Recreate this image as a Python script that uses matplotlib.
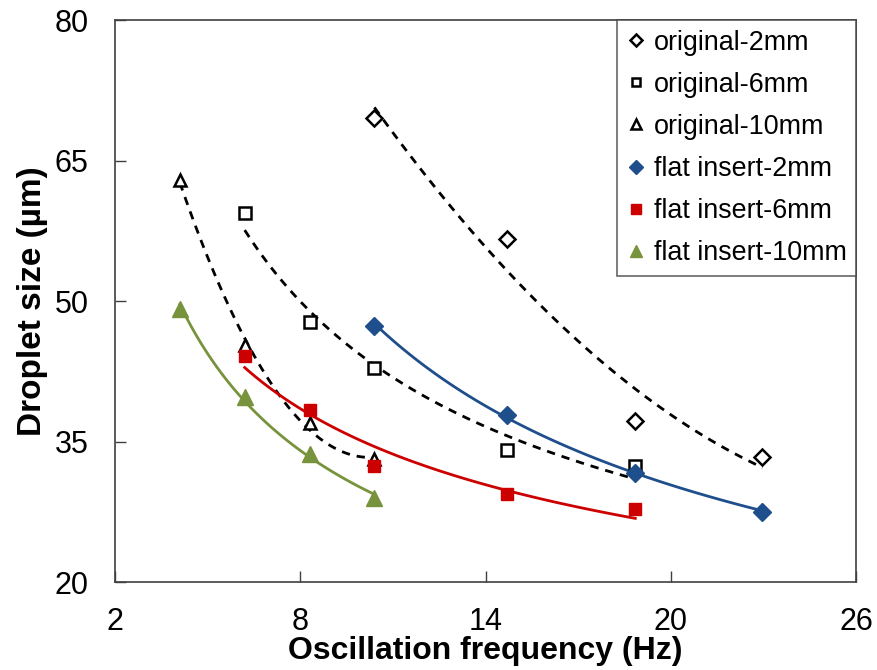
import numpy as np
import matplotlib
matplotlib.use("Agg")
import matplotlib.pyplot as plt

plt.rcParams['font.family'] = ['Liberation Sans', 'DejaVu Sans']

# data
freq_2mm = [10.4, 14.7, 18.85, 22.97]
freq_6mm = [6.2, 8.3, 10.4, 14.7, 18.85]
freq_10mm = [4.1, 6.2, 8.3, 10.4]

orig_2mm = [69.6, 56.6, 37.2, 33.4]
orig_6mm = [59.4, 47.8, 42.9, 34.1, 32.4]
orig_10mm = [62.9, 45.3, 37.0, 33.1]

flat_2mm = [47.4, 37.8, 31.7, 27.5]
flat_6mm = [44.1, 38.4, 32.4, 29.4, 27.8]
flat_10mm = [49.2, 39.8, 33.7, 29.0]

blue = '#1F4E8C'
red = '#CC0000'
green = '#77933C'

fig = plt.figure(figsize=(8.78, 6.70), dpi=100)
ax = fig.add_axes([0.131, 0.131, 0.844, 0.839])


def poly_trend(x, y):
    c = np.polyfit(x, y, 2)
    xs = np.linspace(min(x), max(x), 100)
    return xs, np.polyval(c, xs)


def power_trend(x, y):
    b, a = np.polyfit(np.log(x), np.log(y), 1)
    xs = np.linspace(min(x), max(x), 100)
    return xs, np.exp(a) * xs ** b


# trend lines (dashed for the original nozzle, solid for the flat insert)
for x, y, fit in [(freq_2mm, orig_2mm, poly_trend), (freq_6mm, orig_6mm, power_trend),
                  (freq_10mm, orig_10mm, poly_trend)]:
    xs, ys = fit(x, y)
    ax.plot(xs, ys, '--', color='black', lw=2, dashes=(3, 2.5), zorder=2)

for x, y, col in [(freq_2mm, flat_2mm, blue), (freq_6mm, flat_6mm, red), (freq_10mm, flat_10mm, green)]:
    xs, ys = power_trend(x, y)
    ax.plot(xs, ys, '-', color=col, lw=2, zorder=2)

# markers
ax.plot(freq_2mm, orig_2mm, 'D', ls='none', ms=8, mfc='white', mec='black', mew=1.8, label='original-2mm', zorder=3)
ax.plot(freq_6mm, orig_6mm, 's', ls='none', ms=8, mfc='white', mec='black', mew=1.8, label='original-6mm', zorder=3)
ax.plot(freq_10mm, orig_10mm, '^', ls='none', ms=9, mfc='white', mec='black', mew=1.8, label='original-10mm', zorder=3)
ax.plot(freq_2mm, flat_2mm, 'D', ls='none', ms=9, color=blue, label='flat insert-2mm', zorder=4)
ax.plot(freq_6mm, flat_6mm, 's', ls='none', ms=9, color=red, label='flat insert-6mm', zorder=4)
ax.plot(freq_10mm, flat_10mm, '^', ls='none', ms=11, color=green, label='flat insert-10mm', zorder=4)

ax.set_xlim(2, 26)
ax.set_ylim(20, 80)
ax.set_xticks([2, 8, 14, 20, 26])
ax.set_yticks([20, 35, 50, 65, 80])
ax.tick_params(direction='in', length=8, width=1, color='#404040', labelsize=22)
ax.tick_params(axis='x', pad=18)
ax.tick_params(axis='y', pad=19)
for s in ax.spines.values():
    s.set_color('#404040')
    s.set_linewidth(1.2)

ax.set_xlabel('Oscillation frequency (Hz)', fontsize=23, fontweight='bold', labelpad=-1)
ax.set_ylabel('Droplet size (\u00b5m)', fontsize=24, fontweight='bold', labelpad=5)

leg = ax.legend(loc='upper right', fontsize=19.4, frameon=True, fancybox=False,
                borderaxespad=0, handlelength=0.7, handletextpad=0.3,
                labelspacing=0.6, borderpad=0.35, markerscale=0.75)
leg.get_frame().set_edgecolor('#404040')
leg.get_frame().set_linewidth(1.2)

fig.savefig('out.png', dpi=100)
